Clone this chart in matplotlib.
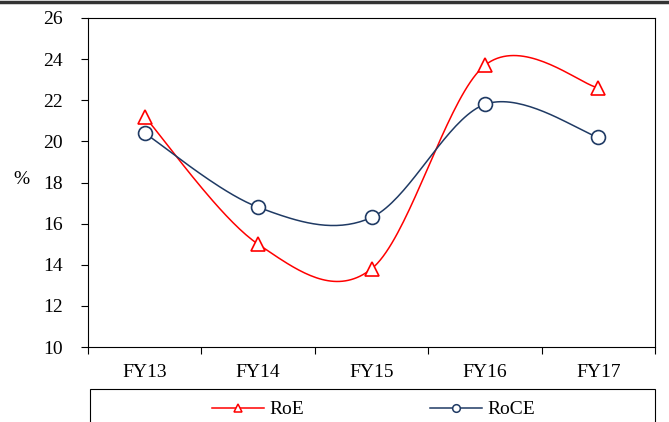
import numpy as np
import matplotlib.pyplot as plt
from matplotlib.lines import Line2D
from matplotlib.patches import Rectangle

years = ['FY13', 'FY14', 'FY15', 'FY16', 'FY17']
roe = [21.2, 15.0, 13.8, 23.7, 22.6]
roce = [20.4, 16.8, 16.3, 21.8, 20.2]

RED = '#FF0000'
NAVY = '#1F3A64'


def smooth(xs, ys, n=40):
    # Catmull-Rom style smoothing, like Excel's "smoothed line"
    xs = np.asarray(xs, float)
    ys = np.asarray(ys, float)
    px = np.concatenate([[xs[0]], xs, [xs[-1]]])
    py = np.concatenate([[ys[0]], ys, [ys[-1]]])
    out_x, out_y = [], []
    t = np.linspace(0, 1, n)
    for i in range(1, len(px) - 2):
        p0, p1, p2, p3 = [np.array([px[j], py[j]]) for j in (i - 1, i, i + 1, i + 2)]
        c1 = p1 + (p2 - p0) / 6
        c2 = p2 - (p3 - p1) / 6
        b = ((1 - t) ** 3)[:, None] * p1 + (3 * (1 - t) ** 2 * t)[:, None] * c1 \
            + (3 * (1 - t) * t ** 2)[:, None] * c2 + (t ** 3)[:, None] * p2
        out_x.extend(b[:, 0])
        out_y.extend(b[:, 1])
    return np.array(out_x), np.array(out_y)


plt.rcParams['font.family'] = ['Liberation Serif', 'DejaVu Serif']
FS = 14

fig = plt.figure(figsize=(6.69, 4.22), dpi=100)
ax = fig.add_axes([88 / 669, 1 - 347 / 422, 567 / 669, 329 / 422])

x = np.arange(len(years))
for vals, col, mk in [(roe, RED, '^'), (roce, NAVY, 'o')]:
    sx, sy = smooth(x, vals)
    ax.plot(sx, sy, color=col, lw=1.1, zorder=2)
    ax.plot(x, vals, ls='none', marker=mk, ms=10, mfc='white', mec=col, mew=1.2, zorder=3)

ax.set_xlim(-0.5, len(years) - 0.5)
ax.set_ylim(10, 26)
ax.set_yticks(np.arange(10, 27, 2))
ax.set_xticks(x)
ax.set_xticklabels(years)
ax.set_xticks(np.arange(-0.5, len(years), 1), minor=True)
ax.tick_params(axis='x', which='major', length=0, pad=12, labelsize=FS)
ax.tick_params(axis='x', which='minor', length=5, width=0.8, direction='out')
ax.tick_params(axis='y', length=5, width=0.8, direction='out', labelsize=FS, pad=13)
for s in ax.spines.values():
    s.set_linewidth(0.8)
ax.set_ylabel('%', rotation=0, fontsize=FS, va='center', ha='center')
ax.yaxis.set_label_coords(-0.118, 0.51)

# top border of the page
fig.add_artist(Line2D([0, 1], [1 - 1.5 / 422, 1 - 1.5 / 422], color='#333333', lw=2.5))

# legend box (cut off at bottom)
fig.add_artist(Rectangle((90 / 669, -0.05), 565 / 669, 0.05 + (422 - 389) / 422,
                         fill=False, ec='black', lw=0.8))
ly = 1 - 408 / 422
for x0, col, mk, lab in [(212, RED, '^', 'RoE'), (430, NAVY, 'o', 'RoCE')]:
    fig.add_artist(Line2D([x0 / 669, (x0 + 52) / 669], [ly, ly], color=col, lw=1.1))
    fig.add_artist(Line2D([(x0 + 26) / 669], [ly], ls='none', marker=mk, ms=5.5,
                          mfc='white', mec=col, mew=1.1))
    fig.text((x0 + 57) / 669, ly - 1.5 / 422, lab, fontsize=FS, va='center', ha='left')

fig.savefig('out.png', dpi=100)
